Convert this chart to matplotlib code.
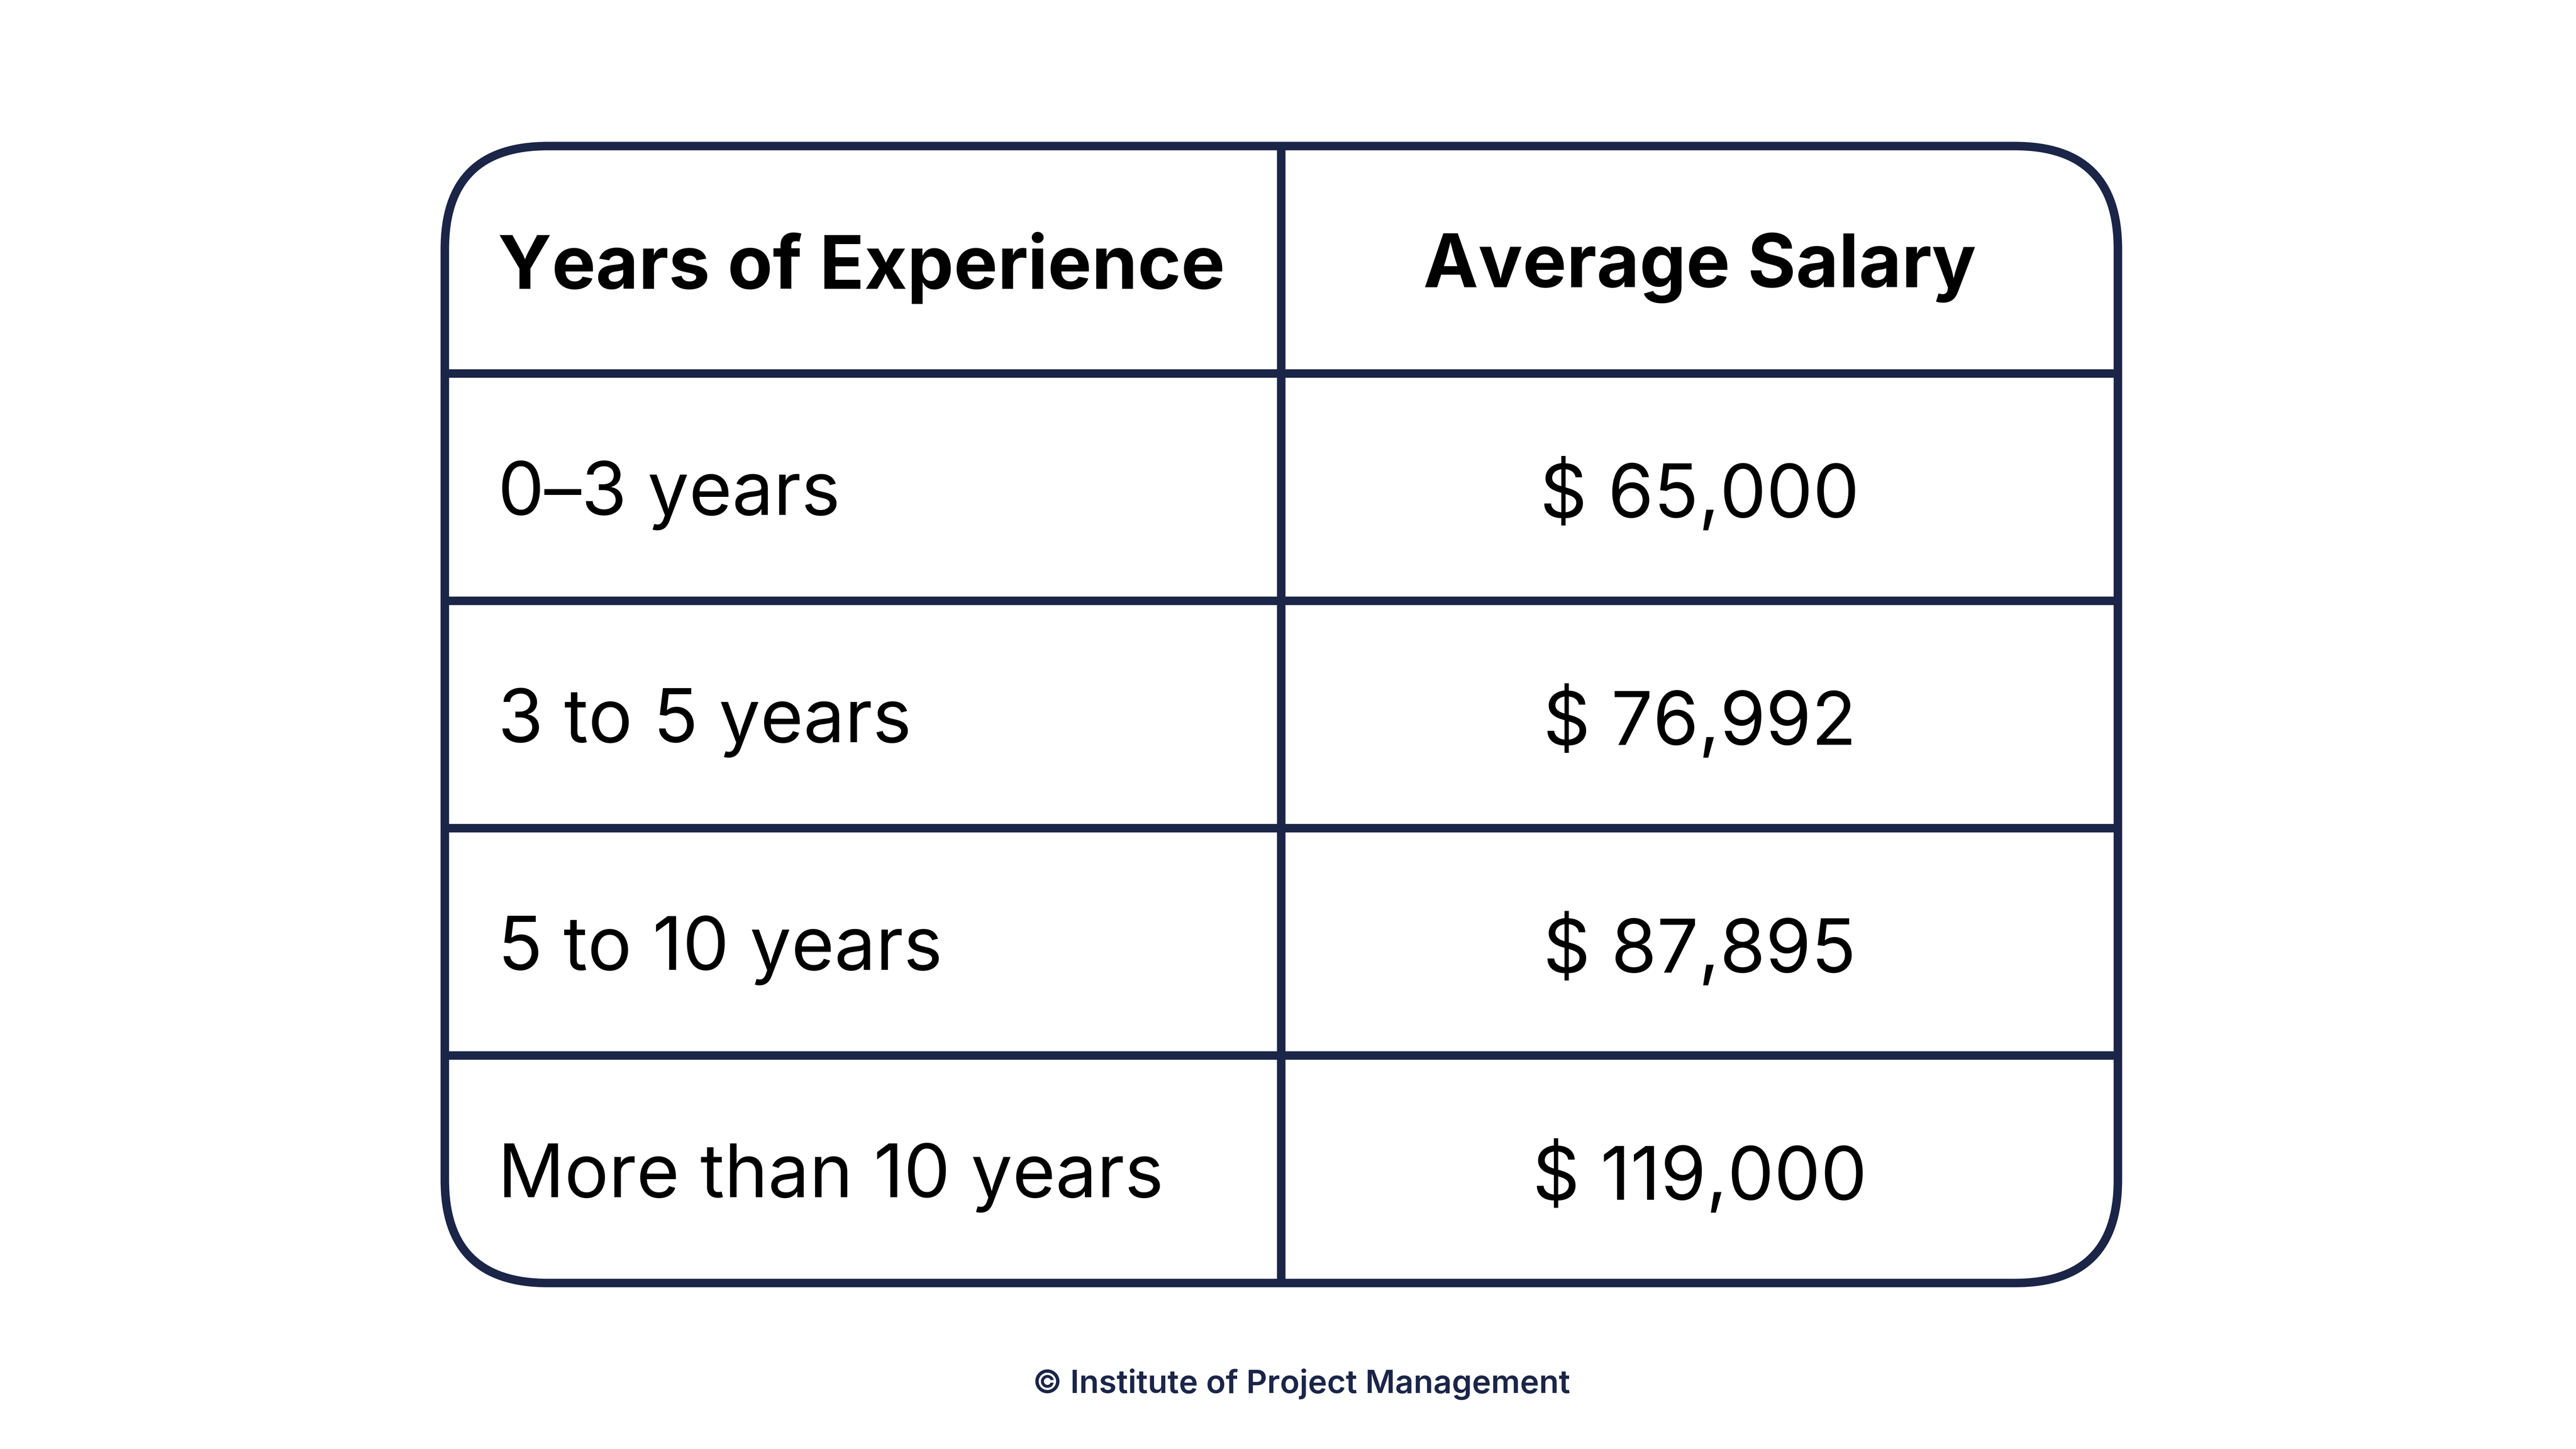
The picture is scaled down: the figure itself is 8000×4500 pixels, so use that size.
import matplotlib
matplotlib.use("Agg")
import matplotlib.pyplot as plt
from matplotlib.patches import FancyBboxPatch

headers = ["Years of Experience", "Average Salary"]
experience = ["0–3 years", "3 to 5 years", "5 to 10 years", "More than 10 years"]
salaries = ["$ 65,000", "$ 76,992", "$ 87,895", "$ 119,000"]
footer = "© Institute of Project Management"

navy = "#1b2548"
W, H = 1552, 873
fig = plt.figure(figsize=(80, 45), dpi=100)
ax = fig.add_axes([0, 0, 1, 1])
ax.set_xlim(0, W); ax.set_ylim(H, 0); ax.axis("off")
plt.rcParams['font.family'] = ['Inter', 'DejaVu Sans']

L, R, T, B = 268, 1276, 88, 773
mid = 772
rows = [T, 225, 362, 499, 636, B]
lw = 19
r = 62
box = FancyBboxPatch((L + r, T + r), (R - L) - 2 * r, (B - T) - 2 * r,
                     boxstyle=f"round,pad={r}", fc="white", ec=navy, lw=lw)
ax.add_patch(box)
ax.plot([mid, mid], [T, B], color=navy, lw=lw, solid_capstyle="butt")
for y in rows[1:-1]:
    ax.plot([L, R], [y, y], color=navy, lw=lw, solid_capstyle="butt")

fs = 165
cy = [(rows[i] + rows[i + 1]) / 2 + 5 for i in range(5)]
ax.text(300, cy[0], headers[0], fontsize=fs, fontweight="bold", ha="left", va="center", color="black")
ax.text((mid + R) / 2, cy[0], headers[1], fontsize=fs, fontweight="bold", ha="center", va="center", color="black")
for i, (e, s) in enumerate(zip(experience, salaries)):
    ax.text(300, cy[i + 1], e, fontsize=fs, ha="left", va="center", color="black")
    ax.text((mid + R) / 2, cy[i + 1], s, fontsize=fs, ha="center", va="center", color="black")

ax.text(784, 834, footer, fontsize=72, fontweight="semibold", ha="center", va="center", color=navy)
fig.savefig("out.png", dpi=100, facecolor="white")
